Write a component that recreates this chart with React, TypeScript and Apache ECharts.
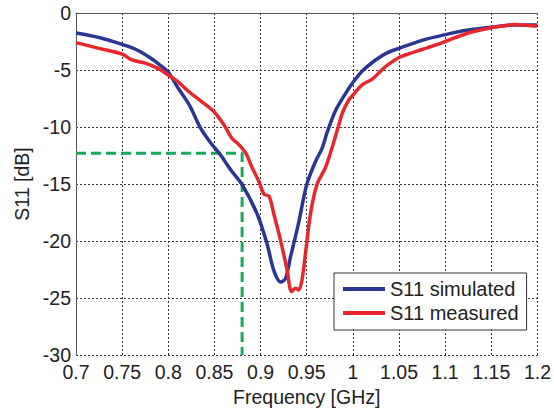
import React, { useEffect, useRef } from "react";
import * as echarts from "echarts";

const freqSimulated = [0.7, 0.725, 0.75, 0.765, 0.78, 0.79, 0.8, 0.81, 0.823, 0.835, 0.846, 0.857, 0.868, 0.88, 0.8964, 0.9072, 0.9144, 0.9217, 0.927, 0.9324, 0.941, 0.95, 0.9597, 0.9665, 0.972, 0.981, 0.991, 1.0, 1.01, 1.025, 1.037, 1.05, 1.075, 1.1, 1.125, 1.15, 1.175, 1.2];
const s11Simulated = [-1.75, -2.15, -2.75, -3.2, -3.9, -4.5, -5.2, -6.5, -8.1, -10.1, -11.4, -12.5, -13.8, -15.05, -17.65, -20.3, -22.6, -23.6, -23.3, -21.4, -18.5, -15.05, -13.0, -11.9, -10.5, -8.6, -7.2, -6.1, -5.1, -4.1, -3.5, -3.1, -2.4, -1.9, -1.5, -1.25, -1.05, -1.05];

const freqMeasured = [0.7, 0.725, 0.75, 0.76, 0.775, 0.79, 0.8, 0.81, 0.823, 0.835, 0.85, 0.861, 0.869, 0.876, 0.884, 0.891, 0.8983, 0.9037, 0.9091, 0.9144, 0.9217, 0.9288, 0.9335, 0.9378, 0.9414, 0.9449, 0.9486, 0.954, 0.9611, 0.9701, 0.9773, 0.983, 0.989, 0.995, 1.0, 1.01, 1.021, 1.03, 1.037, 1.05, 1.06, 1.075, 1.09, 1.1, 1.125, 1.15, 1.165, 1.175, 1.19, 1.2];
const s11Measured = [-2.6, -3.1, -3.6, -4.1, -4.4, -4.9, -5.45, -6.0, -6.95, -7.7, -8.7, -9.9, -11.0, -11.5, -12.3, -13.6, -14.8, -15.9, -16.06, -17.65, -19.96, -22.56, -24.44, -24.15, -24.29, -23.42, -21.12, -17.65, -15.05, -13.6, -11.87, -10.3, -8.7, -7.7, -7.2, -6.3, -5.8, -5.1, -4.6, -3.9, -3.6, -3.2, -2.8, -2.5, -1.75, -1.3, -1.1, -1.0, -1.1, -1.15];

const markerFreq = [0.7, 0.88, 0.88];
const markerS11 = [-12.3, -12.3, -30];

const seriesNames = ["S11 simulated", "S11 measured"];

const FONT = "Liberation Sans, Arial, Helvetica, sans-serif";
const TEXT = "#222222";

export default function App() {
  const ref = useRef<HTMLDivElement>(null);
  useEffect(() => {
    if (!ref.current) return;
    const chart = echarts.init(ref.current, undefined, { renderer: "svg" });
    const fmt = (v: number) => String(parseFloat(Number(v).toFixed(2)));
    chart.setOption({
      animation: false,
      backgroundColor: "#ffffff",
      textStyle: { fontFamily: FONT },
      grid: { left: 76, right: 14, top: 13, bottom: 53 },
      xAxis: {
        type: "value",
        min: 0.7,
        max: 1.2,
        interval: 0.05,
        name: "Frequency [GHz]",
        nameLocation: "middle",
        nameGap: 32,
        nameTextStyle: { color: TEXT, fontSize: 19.5, fontFamily: FONT },
        axisLine: { show: true, lineStyle: { color: "#555555", width: 1 } },
        axisTick: { show: false },
        axisLabel: { color: TEXT, fontSize: 19.5, margin: 7, formatter: fmt, fontFamily: FONT },
        splitLine: { show: true, lineStyle: { color: "#333333", width: 1, type: [2, 2] } },
      },
      yAxis: {
        type: "value",
        min: -30,
        max: 0,
        interval: 5,
        name: "S11 [dB]",
        nameLocation: "middle",
        nameGap: 44,
        nameTextStyle: { color: TEXT, fontSize: 19.5, fontFamily: FONT },
        axisLine: { show: true, lineStyle: { color: "#555555", width: 1 } },
        axisTick: { show: false },
        axisLabel: { color: TEXT, fontSize: 19.5, margin: 5, fontFamily: FONT },
        splitLine: { show: true, lineStyle: { color: "#333333", width: 1, type: [2, 2] } },
      },
      legend: {
        data: seriesNames,
        orient: "vertical",
        left: 334,
        top: 273,
        padding: [6, 8, 7, 9],
        itemGap: 4,
        itemWidth: 42,
        itemHeight: 4,
        icon: "rect",
        backgroundColor: "#ffffff",
        borderColor: "#333333",
        borderWidth: 1,
        borderRadius: 0,
        textStyle: { color: TEXT, fontSize: 20, lineHeight: 20, fontFamily: FONT },
      },
      series: [
        {
          name: "marker",
          type: "line",
          data: markerFreq.map((f, i) => [f, markerS11[i]]),
          showSymbol: false,
          lineStyle: { color: "#1aa85a", width: 3, type: [10, 5] },
          itemStyle: { color: "#1aa85a" },
          z: 1,
        },
        {
          name: seriesNames[0],
          type: "line",
          data: freqSimulated.map((f, i) => [f, s11Simulated[i]]),
          showSymbol: false,
          smooth: 0.3,
          lineStyle: { color: "#2b3593", width: 3.5 },
          itemStyle: { color: "#2b3593" },
          z: 2,
        },
        {
          name: seriesNames[1],
          type: "line",
          data: freqMeasured.map((f, i) => [f, s11Measured[i]]),
          showSymbol: false,
          smooth: 0.3,
          lineStyle: { color: "#e8262b", width: 3.5 },
          itemStyle: { color: "#e8262b" },
          z: 3,
        },
      ],
    });
    return () => chart.dispose();
  }, []);
  return (
    <div
      ref={ref}
      style={{ position: "fixed", left: 0, top: 0, width: 554, height: 412, background: "#fff" }}
    />
  );
}
